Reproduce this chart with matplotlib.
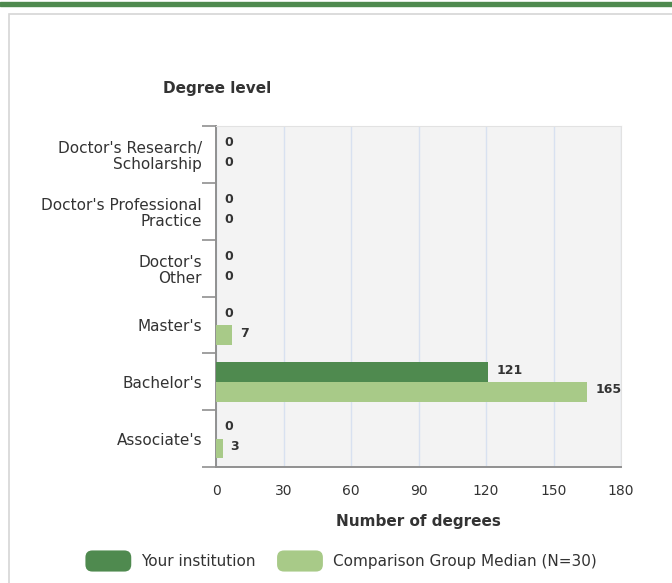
import numpy as np
import matplotlib
matplotlib.use("Agg")
import matplotlib.pyplot as plt
from matplotlib.patches import Rectangle, Patch, FancyBboxPatch
from matplotlib.legend_handler import HandlerPatch

plt.rcParams['font.family'] = ['DejaVu Sans']

# data
categories = ["Doctor's Research/\nScholarship", "Doctor's Professional\nPractice",
              "Doctor's\nOther", "Master's", "Bachelor's", "Associate's"]
your_institution = [0, 0, 0, 0, 121, 0]
comparison_median = [0, 0, 0, 7, 165, 3]
series_names = ["Your institution", "Comparison Group Median (N=30)"]
x_ticks = [0, 30, 60, 90, 120, 150, 180]

dark_green = '#4f8a4f'
light_green = '#a8ca88'
text_col = '#333333'


class RoundSwatch(HandlerPatch):
    # legend key drawn as a rounded box
    def create_artists(self, legend, orig_handle, xdescent, ydescent, width, height, fontsize, trans):
        p = FancyBboxPatch((-xdescent, -ydescent), width, height,
                           boxstyle="round,pad=0,rounding_size=5",
                           facecolor=orig_handle.get_facecolor(), edgecolor='none', transform=trans)
        return [p]


fig = plt.figure(figsize=(6.72, 5.83), dpi=100)
W, H = 672, 583

# header stripe and panel frame
fig.patches.append(Rectangle((0, 1 - 6 / H), 1, 4.5 / H, transform=fig.transFigure,
                             color=dark_green, zorder=0))
fig.patches.append(Rectangle((9 / W, -0.1), 1.2, 1 - 14 / H + 0.1, transform=fig.transFigure,
                             facecolor='none', edgecolor='#d6d6d6', lw=1.2, zorder=0))

ax = fig.add_axes([216 / W, 1 - 467 / H, (621 - 216) / W, (467 - 126) / H])
ax.set_facecolor('#f3f3f3')

y = np.arange(len(categories))
h = 0.35
ax.barh(y - h / 2, your_institution, height=h, color=dark_green, zorder=3)
ax.barh(y + h / 2, comparison_median, height=h, color=light_green, zorder=3)

for yi, v in zip(y, your_institution):
    ax.text(v + 3.5, yi - h / 2 - 0.03, str(v), va='center', ha='left', fontsize=9,
            fontweight='bold', color=text_col)
for yi, v in zip(y, comparison_median):
    ax.text(v + 3.5, yi + h / 2 - 0.03, str(v), va='center', ha='left', fontsize=9,
            fontweight='bold', color=text_col)

ax.set_xlim(0, 180)
ax.set_ylim(len(categories) - 0.5, -0.5)
ax.set_xticks(x_ticks)
ax.set_xticklabels([str(t) for t in x_ticks])
ax.tick_params(axis='x', length=0, pad=12, labelsize=10, labelcolor=text_col)
ax.grid(axis='x', color='#d8e1f0', lw=1, zorder=1)

ax.set_yticks(y)
ax.set_yticklabels(categories, linespacing=1.08)
ax.tick_params(axis='y', which='major', length=0, pad=10, labelsize=11, labelcolor=text_col)
ax.set_yticks(np.arange(-0.5, len(categories)), minor=True)
ax.tick_params(axis='y', which='minor', length=10, width=1.2, color='#909090')

for s in ['top', 'right']:
    ax.spines[s].set_color('#e2e2e2')
for s in ['left', 'bottom']:
    ax.spines[s].set_color('#909090')
    ax.spines[s].set_linewidth(1.4)

ax.set_xlabel("Number of degrees", fontsize=11, fontweight='bold', color=text_col, labelpad=12)
fig.text(217 / W, 1 - 88 / H, "Degree level", ha='center', va='center', fontsize=11,
         fontweight='bold', color=text_col)

handles = [Patch(facecolor=dark_green), Patch(facecolor=light_green)]
fig.legend(handles, series_names, loc='center', bbox_to_anchor=(0.5 + 5 / W, 1 - 561 / H), ncol=2,
           frameon=False, fontsize=11, handlelength=3.0, handleheight=1.75,
           columnspacing=1.4, handletextpad=0.65, labelcolor=text_col,
           handler_map={Patch: RoundSwatch()})

fig.savefig('out.png', dpi=100)
